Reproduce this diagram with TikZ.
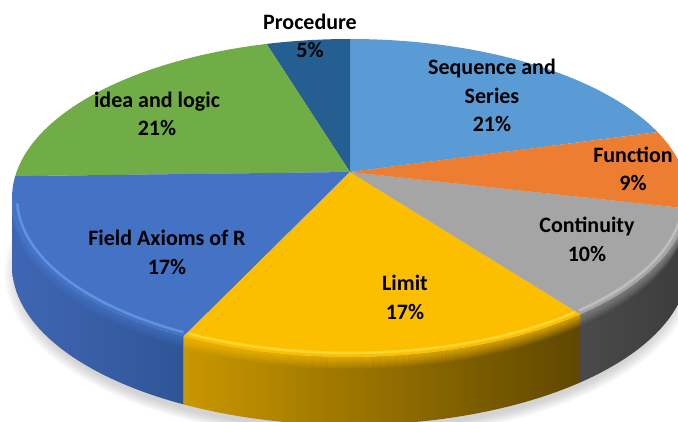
\documentclass[tikz,border=0pt]{standalone}
\usepackage{fontspec}
\setmainfont{Carlito}
\definecolor{cSeq}{HTML}{5B9BD5}
\definecolor{cFun}{HTML}{ED7D31}
\definecolor{cCon}{HTML}{A5A5A5}
\definecolor{cLim}{HTML}{FCBF00}
\definecolor{cFld}{HTML}{4472C4}
\definecolor{cIdea}{HTML}{70AD47}
\definecolor{cProc}{HTML}{255E91}
% side faces (lit from the left)
\definecolor{sFldL}{HTML}{3F66B3}
\definecolor{sFldR}{HTML}{2F5597}
\definecolor{sLimL}{HTML}{C99700}
\definecolor{sLimR}{HTML}{5F4700}
\definecolor{sConL}{HTML}{4A4A4A}
\definecolor{sConR}{HTML}{3C3C3C}
\definecolor{sFunL}{HTML}{8A4718}
\definecolor{sFunR}{HTML}{6A3510}
% rim highlights
\definecolor{hFld}{HTML}{6A97E6}
\definecolor{hLim}{HTML}{FFDA40}
\definecolor{hCon}{HTML}{C4C4C4}
% one wedge of the top face, from angle #1 to angle #2
\newcommand\topwedge[3]{%
  \fill[#3] (A) -- ([shift={(350,223)}]#1:338pt and 159pt)
    arc[start angle=#1,end angle=#2,x radius=338pt,y radius=159pt] -- cycle;}
% one piece of the rim, from angle #1 to angle #2
\newcommand\rimpiece[4]{%
  \shade[left color=#3,right color=#4] ([shift={(350,223)}]#1:338pt and 159pt)
    arc[start angle=#1,end angle=#2,x radius=338pt,y radius=159pt]
    -- ++(0,-68)
    arc[start angle=#2,end angle=#1,x radius=338pt,y radius=159pt] -- cycle;}
% rounded edge: the face colour fading out just below the rim line
\newcommand\rimband[3]{%
  \foreach \k in {0,...,11}
    \draw[line width=1.2pt,#3,opacity={0.6-0.05*\k}]
      ([shift={(350,222.5-\k)}]#1:338pt and 159pt)
      arc[start angle=#1,end angle=#2,x radius=338pt,y radius=159pt];}
% bright line on the top face along the rim
\newcommand\rimlight[3]{%
  \draw[line width=3pt,#3,opacity=.6] ([shift={(350,223)}]#1:333pt and 155pt)
    arc[start angle=#1,end angle=#2,x radius=333pt,y radius=155pt];
  \draw[line width=1.2pt,#3,opacity=.8] ([shift={(350,223)}]#1:333pt and 155pt)
    arc[start angle=#1,end angle=#2,x radius=333pt,y radius=155pt];}
\begin{document}
\begin{tikzpicture}[x=1pt,y=1pt,
  lbl/.style={font=\bfseries\fontsize{22}{28.5}\selectfont,align=center,
    text=black,inner sep=0pt}]
\useasboundingbox (0,0) rectangle (678,421);
\clip (0,0) rectangle (678,421);
\coordinate (C) at (350,223);
\coordinate (A) at (350,249);

% drop shadow under the pie
\foreach \k in {1,...,12}
  \fill[black,opacity=.016] (350,148) ellipse [x radius=330pt+1.3pt*\k,y radius=156pt+0.9pt*\k];

% rim
\rimpiece{180}{240.5}{sFldL}{sFldR}
\rimpiece{240.5}{313}{sLimL}{sLimR}
\rimpiece{313}{356.2}{sConL}{sConR}
\rimpiece{356.2}{360}{sFunL}{sFunR}
\begin{scope}
  \clip ([shift={(350,223)}]180:338pt and 159pt)
    arc[start angle=180,end angle=360,x radius=338pt,y radius=159pt]
    -- ++(0,-68)
    arc[start angle=360,end angle=180,x radius=338pt,y radius=159pt] -- cycle;
  \rimband{180}{240.5}{cFld}
  \rimband{240.5}{313}{cLim}
  \rimband{313}{356.2}{cCon!85!black}
\end{scope}

% top face
\topwedge{24.5}{90}{cSeq}
\topwedge{90}{104.3}{cProc}
\topwedge{104.3}{172.1}{cIdea}
\topwedge{172.1}{240.5}{cFld}
\topwedge{240.5}{313}{cLim}
\topwedge{313}{356.2}{cCon}
\topwedge{356.2}{384.5}{cFun}

% highlights along the front rim
\rimlight{182}{240}{hFld}
\rimlight{241}{312.5}{hLim}
\rimlight{313.5}{356}{hCon}

% labels
\node[lbl] (procedure) at (310,385) {Procedure\\5\%};
\node[lbl] (sequence) at (492,325.5) {Sequence and\\Series\\21\%};
\node[lbl] (function) at (633,252) {Function\\9\%};
\node[lbl] (continuity) at (587,181.5) {Continuity\\10\%};
\node[lbl] (limit) at (405,123.5) {Limit\\17\%};
\node[lbl] (field) at (167,168.5) {Field Axioms of R\\17\%};
\node[lbl] (idea) at (157,307) {idea and logic\\21\%};
\end{tikzpicture}
\end{document}
